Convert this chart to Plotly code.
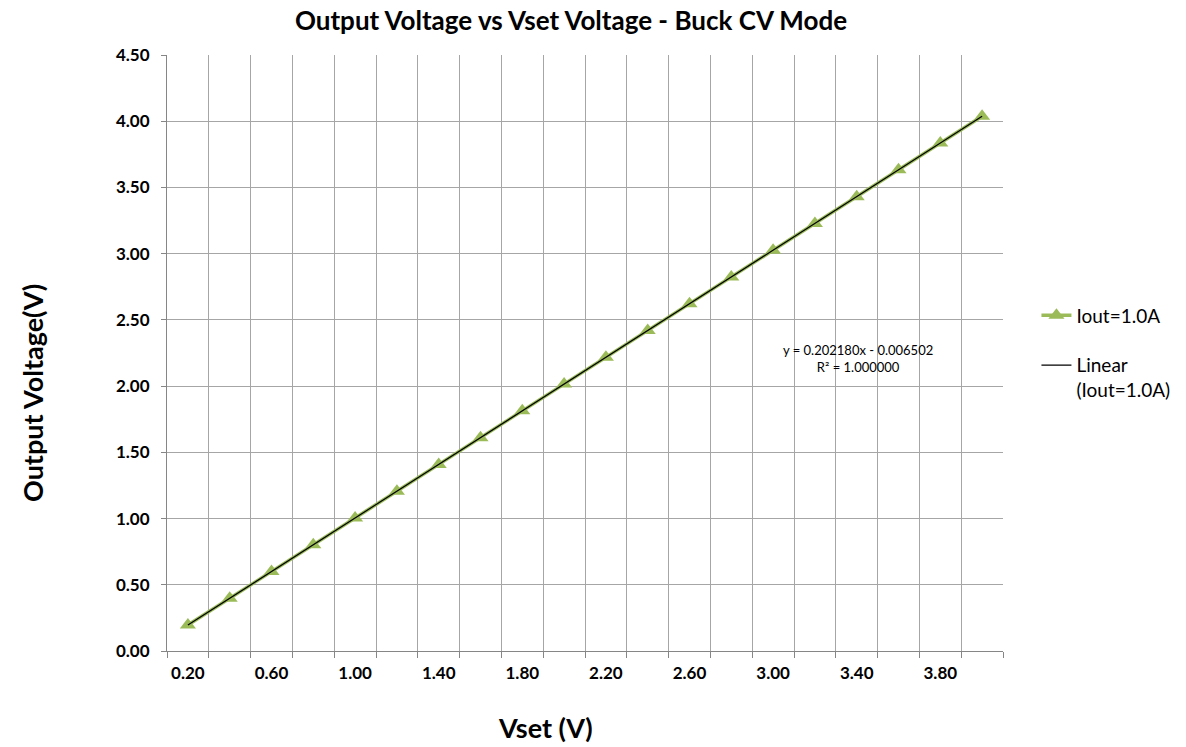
import numpy as np
import plotly.graph_objects as go

# Vset categories (V) and measured output voltage at Iout = 1.0A
vset = [0.20, 0.40, 0.60, 0.80, 1.00, 1.20, 1.40, 1.60, 1.80, 2.00,
        2.20, 2.40, 2.60, 2.80, 3.00, 3.20, 3.40, 3.60, 3.80, 4.00]
vout = [0.1957, 0.3979, 0.6001, 0.8022, 1.0044, 1.2066, 1.4088, 1.6110, 1.8131, 2.0153,
        2.2175, 2.4197, 2.6219, 2.8240, 3.0262, 3.2284, 3.4306, 3.6327, 3.8349, 4.0371]
tick_labels = ["0.20", "0.60", "1.00", "1.40", "1.80", "2.20", "2.60", "3.00", "3.40", "3.80"]
trend_label = "y = 0.202180x - 0.006502<br>R² = 1.000000"

# Excel-style trendline: fit against category index 1..N
idx = np.arange(1, len(vset) + 1)
slope, intercept = np.polyfit(idx, vout, 1)
fit = slope * idx + intercept

GREEN = "#9BBB59"
FONT = "Lato"

fig = go.Figure()
fig.add_trace(go.Scatter(
    x=vset, y=vout, mode="lines+markers", name="Iout=1.0A", legendgroup="a",
    line=dict(color=GREEN, width=3.5),
    marker=dict(symbol="triangle-up", size=14, color=GREEN),
))
fig.add_trace(go.Scatter(
    x=vset, y=fit, mode="lines", name="Linear<br>(Iout=1.0A)", legendgroup="b",
    line=dict(color="black", width=1.2),
))

grid_pos = [round(0.1 + 0.2 * k, 2) for k in range(21)]

fig.update_layout(
    width=1186, height=747,
    margin=dict(l=167, r=183, t=55, b=96, autoexpand=False),
    paper_bgcolor="white", plot_bgcolor="white",
    font=dict(family=FONT, color="black"),
    title=dict(text="<b>Output Voltage vs Vset Voltage - Buck CV Mode</b>",
               x=571 / 1186, xanchor="center", y=1 - 21 / 747, yanchor="middle",
               font=dict(size=26)),
    xaxis=dict(
        range=[0.1, 4.1], tickmode="array",
        tickvals=vset[::2], ticktext=tick_labels,
        tickfont=dict(size=17, family=FONT, weight="bold"),
        showgrid=False, ticks="", showline=True, linecolor="#868686",
        zeroline=False, ticklabelstandoff=7,
        minor=dict(tickmode="array", tickvals=grid_pos, showgrid=True,
                   gridcolor="#A6A6A6", gridwidth=1, ticks="outside",
                   ticklen=6, tickcolor="#868686"),
    ),
    yaxis=dict(
        range=[0, 4.5], dtick=0.5, tickformat=".2f",
        tickfont=dict(size=17, family=FONT, weight="bold"),
        showgrid=True, gridcolor="#A6A6A6", gridwidth=1,
        ticks="outside", ticklen=5, tickcolor="#868686", ticklabelstandoff=8,
        showline=True, linecolor="#868686", mirror=False, zeroline=False,
    ),
    legend=dict(x=1.04, xanchor="left", y=0.50, yanchor="middle",
                font=dict(size=19, family=FONT), bgcolor="rgba(0,0,0,0)",
                tracegroupgap=22, valign="top"),
    annotations=[
        dict(text="<b>Vset (V)</b>", xref="paper", yref="paper",
             x=(545 - 167) / 836, y=-(727 - 651) / 596,
             xanchor="center", yanchor="middle", showarrow=False,
             font=dict(size=27)),
        dict(text="<b>Output Voltage(V)</b>", xref="paper", yref="paper",
             x=-(167 - 32) / 836, y=(651 - 393) / 596, textangle=-90,
             xanchor="center", yanchor="middle", showarrow=False,
             font=dict(size=27)),
        dict(text=trend_label, xref="paper", yref="paper",
             x=(858 - 167) / 836, y=(651 - 359) / 596,
             xanchor="center", yanchor="middle", showarrow=False,
             font=dict(size=13)),
    ],
)

# drop the default page margin so the figure sits at the window's corner
fig.write_html("out.html", config={"displayModeBar": False},
               post_script="document.body.style.margin='0';")
